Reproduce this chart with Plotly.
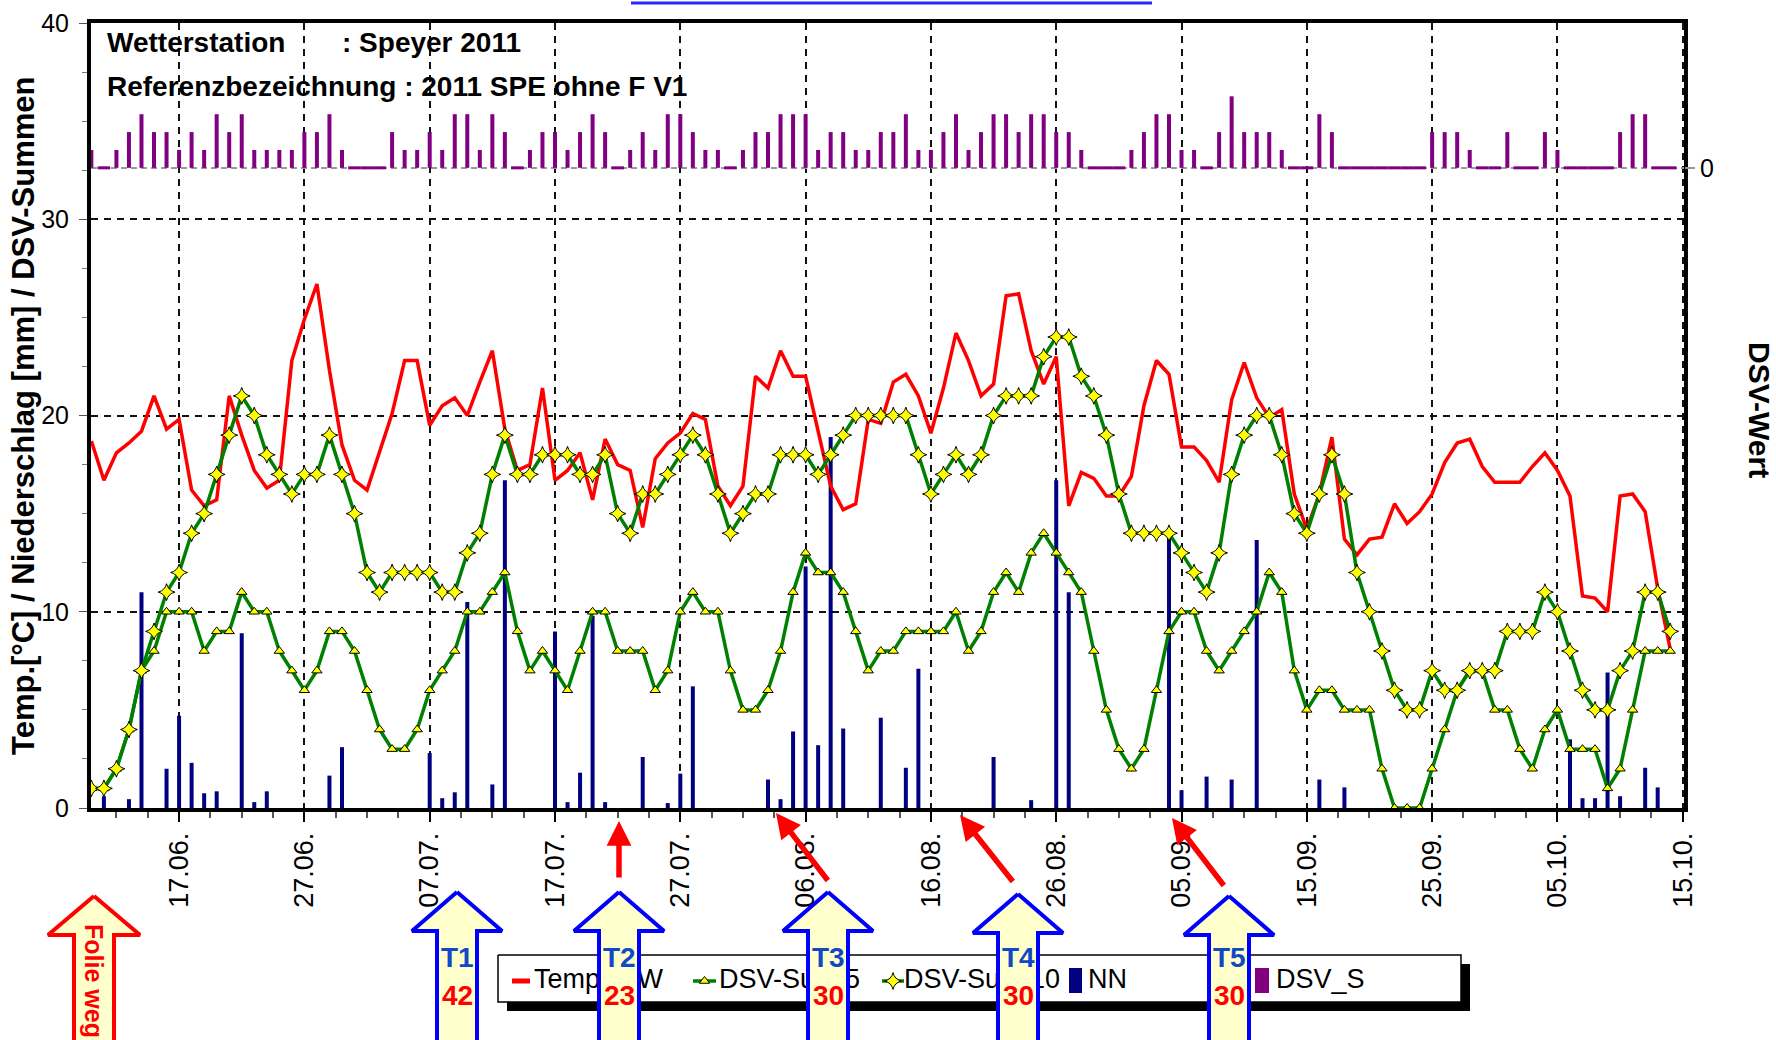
import pandas as pd
import plotly.graph_objects as go

# -------- DATEN (Speyer 2011, Tageswerte ab 10.06.) --------
start = "2011-06-10"
tage = pd.date_range(start, periods=127, freq="D")

# Tagesmitteltemperatur [°C]
temp = [
    18.7, 16.7, 18.1, 18.6, 19.2, 21.0, 19.3, 19.8, 16.2, 15.4,
    15.7, 21.0, 19.0, 17.2, 16.3, 16.7, 22.8, 24.9, 26.7, 22.3,
    18.5, 16.7, 16.2, 18.2, 20.1, 22.8, 22.8, 19.5, 20.5, 20.9,
    20.0, 21.7, 23.3, 19.3, 17.2, 17.5, 21.4, 16.7, 17.2, 18.1,
    15.7, 18.8, 17.5, 17.2, 14.3, 17.8, 18.6, 19.1, 20.1, 19.8,
    16.4, 15.4, 16.4, 22.0, 21.4, 23.3, 22.0, 22.0, 19.1, 16.4,
    15.2, 15.5, 19.8, 19.6, 21.7, 22.1, 21.0, 19.1, 21.4, 24.2,
    22.8, 21.0, 21.6, 26.1, 26.2, 23.3, 21.6, 23.0, 15.4, 17.1,
    16.8, 15.9, 15.9, 16.9, 20.5, 22.8, 22.1, 18.4, 18.4, 17.7,
    16.6, 20.8, 22.7, 20.9, 19.9, 20.3, 16.0, 14.2, 16.0, 18.9,
    13.7, 12.9, 13.7, 13.8, 15.5, 14.5, 15.1, 16.0, 17.6, 18.6,
    18.8, 17.4, 16.6, 16.6, 16.6, 17.4, 18.1, 17.2, 15.9, 10.8,
    10.7, 10.0, 15.9, 16.0, 15.1, 11.2, 8.1,
]

# DSV-Summe über 5 Tage (Dreiecke)
dsv_sum5 = [
    1, 1, 2, 4, 7, 8, 10, 10, 10, 8,
    9, 9, 11, 10, 10, 8, 7, 6, 7, 9,
    9, 8, 6, 4, 3, 3, 4, 6, 7, 8,
    10, 10, 11, 12, 9, 7, 8, 7, 6, 8,
    10, 10, 8, 8, 8, 6, 7, 10, 11, 10,
    10, 7, 5, 5, 6, 8, 11, 13, 12, 12,
    11, 9, 7, 8, 8, 9, 9, 9, 9, 10,
    8, 9, 11, 12, 11, 13, 14, 13, 12, 11,
    8, 5, 3, 2, 3, 6, 9, 10, 10, 8,
    7, 8, 9, 10, 12, 11, 7, 5, 6, 6,
    5, 5, 5, 2, 0, 0, 0, 2, 4, 6,
    7, 7, 5, 5, 3, 2, 4, 5, 3, 3,
    3, 1, 2, 5, 8, 8, 8,
]

# DSV-Summe über 10 Tage (Rauten)
dsv_sum10 = [
    1, 1, 2, 4, 7, 9, 11, 12, 14, 15,
    17, 19, 21, 20, 18, 17, 16, 17, 17, 19,
    17, 15, 12, 11, 12, 12, 12, 12, 11, 11,
    13, 14, 17, 19, 17, 17, 18, 18, 18, 17,
    17, 18, 15, 14, 16, 16, 17, 18, 19, 18,
    16, 14, 15, 16, 16, 18, 18, 18, 17, 18,
    19, 20, 20, 20, 20, 20, 18, 16, 17, 18,
    17, 18, 20, 21, 21, 21, 23, 24, 24, 22,
    21, 19, 16, 14, 14, 14, 14, 13, 12, 11,
    13, 17, 19, 20, 20, 18, 15, 14, 16, 18,
    16, 12, 10, 8, 6, 5, 5, 7, 6, 6,
    7, 7, 7, 9, 9, 9, 11, 10, 8, 6,
    5, 5, 7, 8, 11, 11, 9,
]

# Niederschlag NN [mm]
niederschlag = [
    0, 0.6, 0, 0.45, 11.0, 0, 2.0, 4.7, 2.3, 0.75,
    0.85, 0, 8.9, 0.3, 0.85, 0, 0, 0, 0, 1.65,
    3.1, 0, 0, 0, 0, 0, 0, 2.8, 0.5, 0.8,
    10.5, 0, 1.2, 16.7, 0, 0, 0, 9.0, 0.3, 1.8,
    9.8, 0.3, 0, 0, 2.6, 0, 0.25, 1.75, 6.2, 0,
    0, 0, 0, 0, 1.45, 0.45, 3.9, 12.3, 3.2, 18.9,
    4.05, 0, 0, 4.6, 0, 2.05, 7.1, 0, 0, 0,
    0, 0, 2.6, 0, 0, 0.4, 0, 16.7, 11.0, 0,
    0, 0, 0, 0, 0, 0, 13.9, 0.9, 0, 1.6,
    0, 1.45, 0, 13.65, 0, 0, 0, 0, 1.45, 0,
    1.05, 0, 0, 0, 0, 0, 0, 0, 0, 0,
    0, 0, 0, 0, 0, 0, 0, 0, 3.5, 0.5,
    0.5, 6.9, 0.6, 0, 2.05, 1.05, 0,
]

# DSV-Tageswert DSV_S
dsv_s = [
    1, 0, 1, 2, 3, 2, 2, 1, 2, 1,
    3, 2, 3, 1, 1, 1, 1, 2, 2, 3,
    1, 0, 0, 0, 2, 1, 1, 2, 1, 3,
    3, 1, 3, 2, 0, 1, 2, 2, 1, 2,
    3, 2, 0, 1, 2, 1, 3, 3, 2, 1,
    1, 0, 1, 2, 2, 3, 3, 3, 1, 2,
    2, 1, 1, 2, 2, 3, 1, 1, 2, 3,
    1, 2, 3, 3, 2, 3, 3, 2, 2, 1,
    0, 0, 0, 1, 2, 3, 3, 1, 1, 0,
    2, 4, 2, 2, 2, 1, 0, 0, 3, 2,
    0, 0, 0, 0, 0, 0, 0, 2, 2, 2,
    1, 0, 0, 2, 0, 0, 2, 1, 0, 0,
    0, 0, 2, 3, 3, 0, 0,
]

# Behandlungen (Pfeile unten): Beschriftung, Tage
behandlung = ["T1", "T2", "T3", "T4", "T5"]
behandlung_tage = ["42", "23", "30", "30", "30"]

legende_namen = ["Temp_MW", "DSV-Sum 5", "DSV-Sum 10", "NN", "DSV_S"]

# -------- LAYOUT-HILFEN (Bildschirm-Pixel -> Papier) --------
FW, FH = 1776, 1040
PL, PR, PT, PB = 91, 1684, 23, 808
DAY_MS = 86400000
x0 = pd.Timestamp(start) - pd.Timedelta(hours=0.7)
x1 = pd.Timestamp(start) + pd.Timedelta(days=127.1)

SANS = "Liberation Sans, Arial, sans-serif"
NARROW = "Liberation Sans Narrow, Arial Narrow, Liberation Sans, sans-serif"


def px_x(sx):
    return sx / FW


def px_y(sy):
    return 1 - sy / FH


fig = go.Figure()

# -------- DATEN-SPUREN --------
fig.add_trace(go.Bar(x=tage, y=niederschlag, width=0.32 * DAY_MS,
                     marker=dict(color="#000080", line_width=0)))
fig.add_trace(go.Bar(x=tage, y=dsv_s, yaxis="y2", width=0.32 * DAY_MS,
                     marker=dict(color="#800080", line_width=0)))
null_tage = [t for t, v in zip(tage, dsv_s) if v == 0]
fig.add_trace(go.Scatter(x=null_tage, y=[0] * len(null_tage), yaxis="y2", mode="markers",
                         marker=dict(symbol="line-ew", size=9,
                                     line=dict(color="#800080", width=3))))
fig.add_trace(go.Scatter(x=tage, y=temp, mode="lines",
                         line=dict(color="#FF0000", width=3.5)))
fig.add_trace(go.Scatter(x=tage, y=dsv_sum5, mode="lines+markers",
                         line=dict(color="#008000", width=3.5),
                         marker=dict(symbol="triangle-up", size=9, color="#FFFF00",
                                     line=dict(color="black", width=1))))
fig.add_trace(go.Scatter(x=tage, y=dsv_sum10, mode="lines+markers",
                         line=dict(color="#008000", width=3.5),
                         marker=dict(symbol="star-diamond", size=12, color="#FFFF00",
                                     line=dict(color="black", width=1))))

# -------- OBERE EBENE in Bildschirm-Pixeln (Legende + Blockpfeile) --------
OV = dict(xaxis="x2", yaxis="y3", hoverinfo="skip")


def rechteck(xa, ya, xb, yb):
    return [xa, xb, xb, xa, xa], [ya, ya, yb, yb, ya]


rx, ry = rechteck(507, 964, 1470, 1011)
fig.add_trace(go.Scatter(x=rx, y=ry, mode="lines", fill="toself", fillcolor="black",
                         line=dict(color="black", width=0), **OV))
rx, ry = rechteck(498, 955, 1461, 1002)
fig.add_trace(go.Scatter(x=rx, y=ry, mode="lines", fill="toself", fillcolor="white",
                         line=dict(color="black", width=1.5), **OV))

LEG_Y = 981
fig.add_trace(go.Scatter(x=[512, 530], y=[LEG_Y, LEG_Y], mode="lines",
                         line=dict(color="#FF0000", width=5), **OV))
for a, b, sym, size in [(693, 716, "triangle-up", 9), (882, 904, "star-diamond", 12)]:
    fig.add_trace(go.Scatter(x=[a, b], y=[LEG_Y, LEG_Y], mode="lines",
                             line=dict(color="#008000", width=3.5), **OV))
    fig.add_trace(go.Scatter(x=[(a + b) / 2], y=[LEG_Y], mode="markers",
                             marker=dict(symbol=sym, size=size, color="#FFFF00",
                                         line=dict(color="black", width=1)), **OV))
for a, b, col in [(1069, 1082, "#000080"), (1255, 1269, "#800080")]:
    rx, ry = rechteck(a, 968, b, 993)
    fig.add_trace(go.Scatter(x=rx, y=ry, mode="lines", fill="toself", fillcolor=col,
                             line=dict(color=col, width=0), **OV))

leg_px = [534, 719, 904, 1088, 1276]
fig.add_trace(go.Scatter(x=leg_px, y=[LEG_Y] * len(leg_px), mode="text",
                         text=legende_namen, textposition="middle right",
                         textfont=dict(family=NARROW, size=27, color="black"), **OV))


def block_pfeil(tx, ty, hw, sw, farbe):
    hb = ty + 39
    bot = 1060
    xs = [tx, tx + hw, tx + sw, tx + sw, tx - sw, tx - sw, tx - hw, tx]
    ys = [ty, hb, hb, bot, bot, hb, hb, ty]
    return go.Scatter(x=xs, y=ys, mode="lines", fill="toself", fillcolor="#FFFFCC",
                      line=dict(color=farbe, width=4), **OV)


fig.add_trace(block_pfeil(94, 896, 46, 20, "#FF0000"))
pfeil_x = [457, 619, 828, 1018, 1229]
pfeil_y = [892, 892, 892, 894, 896]
for px, py in zip(pfeil_x, pfeil_y):
    fig.add_trace(block_pfeil(px, py, 45, 20, "#0000FF"))

annos = []
for name, n, px in zip(behandlung, behandlung_tage, pfeil_x):
    annos.append(dict(x=px_x(px), y=px_y(957), xref="paper", yref="paper", text=f"<b>{name}</b>",
                      xanchor="center", yanchor="middle", showarrow=False,
                      font=dict(family=NARROW, size=28, color="#1048C8")))
    annos.append(dict(x=px_x(px), y=px_y(995), xref="paper", yref="paper", text=f"<b>{n}</b>",
                      xanchor="center", yanchor="middle", showarrow=False,
                      font=dict(family=NARROW, size=28, color="#FF0000")))

annos.append(dict(x=px_x(94), y=px_y(922), xref="paper", yref="paper", text="<b>Folie weg</b>",
                  textangle=90, xanchor="center", yanchor="top", showarrow=False,
                  font=dict(family=NARROW, size=25, color="#FF0000")))

# rote Hinweispfeile
for tip, tail in [((619, 821), (619, 879)), ((776, 813), (829, 882)),
                  ((960, 815), (1014, 883)), ((1172, 818), (1225, 887))]:
    annos.append(dict(x=px_x(tip[0]), y=px_y(tip[1]), xref="paper", yref="paper", text="",
                      showarrow=True, arrowhead=2, arrowsize=0.9, arrowwidth=5.5,
                      arrowcolor="#FF0000", ax=tail[0] - tip[0], ay=tail[1] - tip[1]))

# -------- TEXTE --------
KOPF = dict(xref="paper", yref="paper", xanchor="left", yanchor="middle", showarrow=False,
            font=dict(family=SANS, size=28, color="black"))
annos.append(dict(x=px_x(105), y=px_y(43), text="<b>Wetterstation</b>", **KOPF))
annos.append(dict(x=px_x(340), y=px_y(43), text="<b>: Speyer 2011</b>", **KOPF))
annos.append(dict(x=px_x(105), y=px_y(86), text="<b>Referenzbezeichnung : 2011 SPE ohne F V1</b>", **KOPF))
annos.append(dict(x=px_x(23), y=px_y(416), xref="paper", yref="paper",
                  text="<b>Temp.[°C] / Niederschlag [mm] / DSV-Summen</b>", textangle=-90,
                  xanchor="center", yanchor="middle", showarrow=False,
                  font=dict(family=SANS, size=31, color="black")))
annos.append(dict(x=px_x(1759), y=px_y(410), xref="paper", yref="paper",
                  text="<b>DSV-Wert</b>", textangle=90, xanchor="center", yanchor="middle",
                  showarrow=False, font=dict(family=SANS, size=30, color="black")))

# blaue Linie oben
shapes = [dict(type="line", xref="paper", yref="paper", x0=px_x(631), x1=px_x(1152),
               y0=px_y(3), y1=px_y(3), line=dict(color="#2828FF", width=3))]

fig.update_layout(
    width=FW, height=FH, autosize=False,
    margin=dict(l=0, r=0, t=0, b=0, pad=0),
    paper_bgcolor="white", plot_bgcolor="rgba(0,0,0,0)",
    showlegend=False, barmode="overlay", hovermode=False,
    shapes=shapes, annotations=annos,
    xaxis=dict(
        domain=[px_x(PL), px_x(PR)], automargin=False,
        type="date", range=[x0, x1],
        tick0="2011-06-17", dtick=10 * DAY_MS, tickformat="%d.%m.", tickangle=-90,
        tickfont=dict(family=SANS, size=27, color="black"),
        ticks="outside", ticklen=10, tickwidth=2, tickcolor="black",
        minor=dict(tick0="2011-06-17", dtick=2.5 * DAY_MS, ticks="outside", ticklen=6,
                   tickcolor="#555555", showgrid=False),
        showgrid=True, gridcolor="#111111", gridwidth=2, griddash="7px,6px",
        showline=True, linecolor="black", linewidth=4, mirror=True, zeroline=False,
    ),
    yaxis=dict(
        domain=[px_y(PB), px_y(PT)], automargin=False,
        range=[0, 40], dtick=10,
        tickfont=dict(family=SANS, size=25, color="black"),
        ticks="outside", ticklen=8, tickcolor="#555555", ticklabelstandoff=5,
        minor=dict(dtick=2.5, ticks="outside", ticklen=5, tickcolor="#777777", showgrid=False),
        showgrid=True, gridcolor="#111111", gridwidth=2, griddash="7px,6px",
        showline=True, linecolor="black", linewidth=4, mirror=True, zeroline=False,
    ),
    yaxis2=dict(
        overlaying="y", side="right", range=[-35.8, 8.1], tickvals=[0], ticktext=["0"],
        automargin=False,
        tickfont=dict(family=SANS, size=25, color="black"),
        ticks="outside", ticklen=10, tickcolor="#999999", tickwidth=2,
        showgrid=True, gridcolor="#9A9A9A", gridwidth=2, griddash="6px,4px",
        showline=False, zeroline=False,
    ),
    xaxis2=dict(domain=[0, 1], range=[0, FW], visible=False, fixedrange=True,
                automargin=False, anchor="y3"),
    yaxis3=dict(domain=[0, 1], range=[FH, 0], visible=False, fixedrange=True,
                automargin=False, anchor="x2"),
)

fig.write_html("out.html", config={"displayModeBar": False},
               post_script="document.body.style.margin='0px';")
